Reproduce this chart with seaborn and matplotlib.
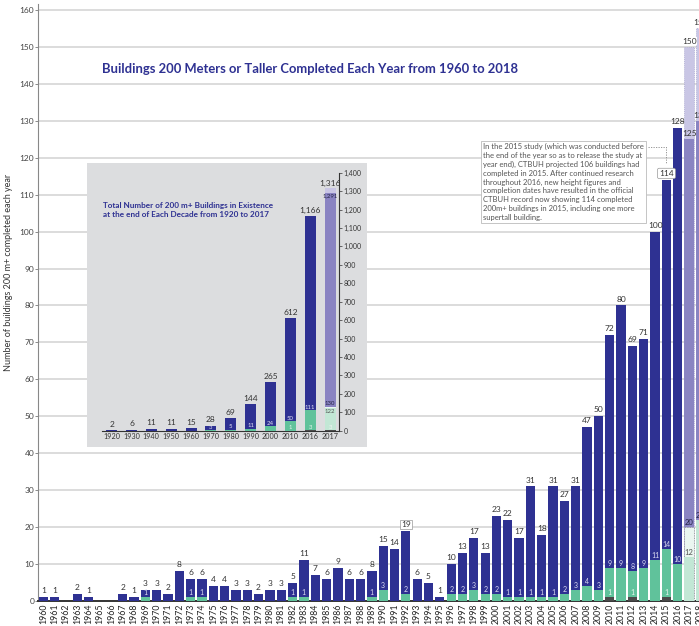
import matplotlib
matplotlib.use('Agg')
import matplotlib.pyplot as plt
import seaborn as sns

# ------------------------------------------------------------------
# DATA
# ------------------------------------------------------------------
years = list(range(1960, 2017))
total_200 = [1, 1, 0, 2, 1, 0, 0, 2, 1, 3,
             3, 2, 8, 6, 6, 4, 4, 3, 3, 2,
             3, 3, 5, 11, 7, 6, 9, 6, 6, 8,
             15, 14, 19, 6, 5, 1, 10, 13, 17, 13,
             23, 22, 17, 31, 18, 31, 27, 31, 47, 50,
             72, 80, 69, 71, 100, 114, 128]
supertall = [0, 0, 0, 0, 0, 0, 0, 0, 0, 1,
             0, 0, 0, 1, 1, 0, 0, 0, 0, 0,
             0, 0, 1, 1, 0, 0, 0, 0, 0, 1,
             3, 0, 2, 0, 0, 0, 2, 2, 3, 2,
             2, 1, 1, 1, 1, 1, 2, 3, 4, 3,
             9, 9, 8, 9, 11, 14, 10]
megatall = [0] * 50 + [1, 0, 1, 0, 0, 1, 0]

proj_years = [2017, 2018]
proj_total = [150, 155]
proj_done = [125, 130]
proj_super_total = [20, 22]
proj_super_done = [12, 22]

decades = ['1920', '1930', '1940', '1950', '1960', '1970', '1980', '1990', '2000', '2010', '2016']
decade_total = [2, 6, 11, 11, 15, 28, 69, 144, 265, 612, 1166]
decade_super = [0, 0, 0, 0, 0, 3, 5, 11, 24, 50, 111]
decade_mega = [0, 0, 0, 0, 0, 0, 0, 0, 0, 1, 3]
inset_order = decades + ['2017']
proj_decade = ['2017']
proj_decade_total = [1316]
proj_decade_done = [1291]
proj_decade_super_total = [130]
proj_decade_super_done = [122]
proj_decade_mega = [3]

NAVY = '#2e3192'
GREEN = '#60c29b'
MEGA = '#4a4a4a'
PURPLE = '#8a84c2'
LAVENDER = '#c9c6e5'
GREEN_LIGHT = '#c2e7d5'
GREEN_DASH = '#eaf6f0'
TXT = '#333333'

sns.set_theme(style='white')
plt.rcParams['font.family'] = ['Lato', 'DejaVu Sans']

W, H = 699, 626
fig = plt.figure(figsize=(W / 100, H / 100), dpi=100)

# ------------------------------------------------------------------
# MAIN CHART
# ------------------------------------------------------------------
px_year = 11.33
x0 = 1959.56
x1 = 2019.5
ax = fig.add_axes([38.3 / W, (H - 601) / H, (x1 - x0) * px_year / W, 161.5 * 3.694 / H])

def layer(axis, x, y, color, width=0.82, **kw):
    sns.barplot(x=x, y=y, color=color, native_scale=True, orient='x', width=width,
                errorbar=None, saturation=1, linewidth=0, ax=axis, zorder=3, **kw)

layer(ax, years, total_200, NAVY)
layer(ax, years, supertall, GREEN)
layer(ax, years, megatall, MEGA)
sns.barplot(x=proj_years, y=proj_total, color=LAVENDER, native_scale=True, orient='x',
            width=0.82, errorbar=None, saturation=1, linewidth=0.5, edgecolor='#a9a6cf',
            linestyle=(0, (1.5, 1.5)), ax=ax, zorder=3)
layer(ax, proj_years, proj_done, PURPLE)
sns.barplot(x=proj_years, y=proj_super_total, color=GREEN_DASH, native_scale=True, orient='x',
            width=0.82, errorbar=None, saturation=1, linewidth=0.6, edgecolor='#999999',
            linestyle=(0, (1.5, 1.5)), ax=ax, zorder=3)
layer(ax, proj_years, proj_super_done, GREEN_LIGHT)

ax.set_xlim(x0, x1)
ax.set_ylim(0, 161.5)
ax.set_yticks(range(0, 161, 10))
ax.set_yticklabels([str(v) for v in range(0, 161, 10)], fontsize=6, color='#444444')
all_years = years + proj_years
ax.set_xticks(all_years)
ax.set_xticklabels([str(y) for y in all_years], rotation=90, fontsize=6.3, color='#222222')
ax.tick_params(axis='y', length=2, width=0.6, color='#777777', pad=1, left=True)
ax.tick_params(axis='x', length=0, pad=2)
ax.set_xlabel('')
ax.set_ylabel('')
ax.grid(axis='y', color='#d9d9d9', lw=1.3, zorder=0)
ax.set_axisbelow(True)
for s in ['top', 'right']:
    ax.spines[s].set_visible(False)
ax.spines['left'].set_color('#888888')
ax.spines['left'].set_linewidth(0.8)
ax.spines['bottom'].set_color('#333333')
ax.spines['bottom'].set_linewidth(1.4)

# value labels
for yr, t, s, m in zip(years, total_200, supertall, megatall):
    if t > 0:
        box = None
        if yr == 1992:
            box = dict(boxstyle='square,pad=0.1', fc='white', ec='#999999', lw=0.5)
        if yr == 2015:
            box = dict(boxstyle='round,pad=0.2', fc='white', ec='#999999', lw=0.5)
        ax.text(yr, t + 0.8, str(t), ha='center', va='bottom', fontsize=6, color=TXT,
                bbox=box, zorder=7)
    if s > 0:
        ax.text(yr, s + 0.3, str(s), ha='center', va='bottom', fontsize=5, color='#dcdcf2', zorder=5)
    if m > 0:
        ax.text(yr, m + 0.3, str(m), ha='center', va='bottom', fontsize=5, color='#e8f5ee', zorder=5)

for yr, t, d, st, sd in zip(proj_years, proj_total, proj_done, proj_super_total, proj_super_done):
    ax.text(yr, t + 0.6, str(t), ha='center', va='bottom', fontsize=6, color=TXT,
            bbox=dict(boxstyle='square,pad=0.05', fc='white', ec='none'), zorder=5)
    ax.text(yr, d + 0.6, str(d), ha='center', va='bottom', fontsize=6, color=TXT, zorder=5)
    ax.text(yr, st + 0.3, str(st), ha='center', va='bottom', fontsize=5.5, color='#222244', zorder=5)
    if sd < st:
        ax.text(yr, sd + 0.3, str(sd), ha='center', va='bottom', fontsize=5.5, color='#555555', zorder=5)

# note for 2015
note = ("In the 2015 study (which was conducted before\n"
        "the end of the year so as to release the study at\n"
        "year end), CTBUH projected 106 buildings had\n"
        "completed in 2015. After continued research\n"
        "throughout 2016, new height figures and\n"
        "completion dates have resulted in the official\n"
        "CTBUH record now showing 114 completed\n"
        "200m+ buildings in 2015, including one more\n"
        "supertall building.")
fig.text(483 / W, 1 - 143 / H, note, ha='left', va='top', fontsize=5.5, color='#555555',
         linespacing=1.3,
         bbox=dict(boxstyle='square,pad=0.3', fc='white', ec='#bbbbbb', lw=0.6), zorder=6)
idx15 = years.index(2015)
ax.plot([2013.4, 2015, 2015], [total_200[idx15] + 9, total_200[idx15] + 9, total_200[idx15] + 4.3],
        color='#888888', lw=0.6, ls=(0, (1.5, 1.5)), zorder=5, clip_on=False)

fig.text(310 / W, 1 - 69 / H, 'Buildings 200 Meters or Taller Completed Each Year from 1960 to 2018',
         ha='center', va='center', fontsize=9.4, fontweight='bold', color=NAVY)
fig.text(9 / W, 1 - 272 / H, 'Number of buildings 200 m+ completed each year', rotation=90,
         ha='center', va='center', fontsize=6.5, color=TXT)

# ------------------------------------------------------------------
# INSET CHART
# ------------------------------------------------------------------
box_ax = fig.add_axes([86.7 / W, (H - 447) / H, 280 / W, 284 / H])
box_ax.set_facecolor('#dcdddf')
box_ax.set_xticks([])
box_ax.set_yticks([])
for s in box_ax.spines.values():
    s.set_visible(False)

iax = fig.add_axes([101.7 / W, (H - 430.7) / H, 237.3 / W, 258 / H])
iax.patch.set_alpha(0)

def ilayer(x, y, color, **kw):
    sns.barplot(x=x, y=y, order=inset_order, color=color, width=0.55, errorbar=None,
                saturation=1, linewidth=0, ax=iax, zorder=3, **kw)

ilayer(decades, decade_total, NAVY)
ilayer(decades, decade_super, GREEN)
ilayer(decades, decade_mega, MEGA)
ilayer(proj_decade, proj_decade_total, LAVENDER)
ilayer(proj_decade, proj_decade_done, PURPLE)
ilayer(proj_decade, proj_decade_super_total, GREEN_DASH)
ilayer(proj_decade, proj_decade_super_done, GREEN_LIGHT)
ilayer(proj_decade, proj_decade_mega, MEGA)

iax.set_xlim(-0.5, 11.45)
iax.set_ylim(0, 1400)
iax.yaxis.tick_right()
iax.set_yticks(range(0, 1401, 100))
iax.set_yticklabels([f'{v:,}' for v in range(0, 1401, 100)], fontsize=5, color='#333333')
iax.tick_params(axis='y', length=2, width=0.5, color='#333333', pad=1.5, right=True)
iax.tick_params(axis='x', length=0, pad=2, labelsize=5.2, labelcolor='#333333')
iax.set_xlabel('')
iax.set_ylabel('')
for s in ['top', 'left']:
    iax.spines[s].set_visible(False)
for s in ['right', 'bottom']:
    iax.spines[s].set_color('#333333')
    iax.spines[s].set_linewidth(0.8)

for i, (t, s, m) in enumerate(zip(decade_total, decade_super, decade_mega)):
    iax.text(i, t + 12, f'{t:,}', ha='center', va='bottom', fontsize=6, color=TXT)
    if s > 0:
        iax.text(i, s + 2, str(s), ha='center', va='bottom', fontsize=4.3, color='#e0e0f4')
    if m > 0:
        iax.text(i, m + 2, str(m), ha='center', va='bottom', fontsize=4.3, color='#e8f5ee')

k = inset_order.index('2017')
iax.text(k, proj_decade_total[0] + 8, f'{proj_decade_total[0]:,}', ha='center', va='bottom',
         fontsize=6, color=TXT)
iax.text(k, proj_decade_done[0] - 4, f'{proj_decade_done[0]:,}', ha='center', va='top',
         fontsize=4.3, color='#222244')
iax.text(k, proj_decade_super_total[0] + 4, str(proj_decade_super_total[0]), ha='center',
         va='bottom', fontsize=4.3, color='#222244')
iax.text(k, proj_decade_super_done[0] - 4, str(proj_decade_super_done[0]), ha='center',
         va='top', fontsize=4.3, color='#555555')
iax.text(k, proj_decade_mega[0] + 2, str(proj_decade_mega[0]), ha='center', va='bottom',
         fontsize=4.3, color='#f4f4f4')

fig.text(103 / W, 1 - 202 / H,
         'Total Number of 200 m+ Buildings in Existence\nat the end of Each Decade from 1920 to 2017',
         ha='left', va='top', fontsize=5.9, fontweight='bold', color=NAVY, linespacing=1.35)

fig.savefig('out.png', dpi=100)
